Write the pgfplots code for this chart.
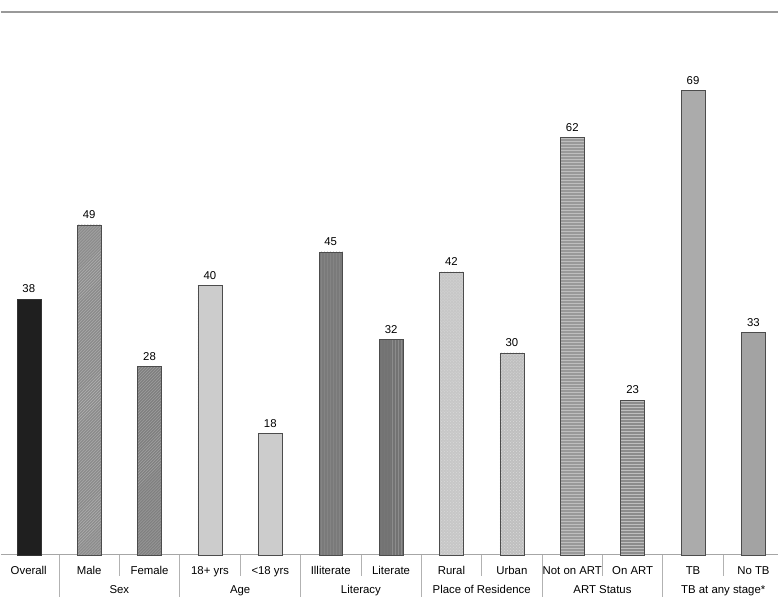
\documentclass[border=0pt]{standalone}
\usepackage{pgfplots}
\pgfplotsset{compat=1.18}
\usepackage{fontspec}
\setmainfont{Liberation Sans}
\usetikzlibrary{patterns}
\begin{document}
\fontsize{11.4}{13}\selectfont
\begin{tikzpicture}
\begin{axis}[
  width=779pt, height=544pt, scale only axis,
  xmin=-0.463, xmax=12.41, ymin=0, ymax=80.6,
  axis x line*=bottom, axis y line=none,
  x axis line style={draw=gray!70, line width=1pt, -},
  xtick=\empty, ytick=\empty,
  ybar, bar width=24pt, bar shift=0pt,
  nodes near coords,
  /pgf/number format/assume math mode=true,
  every node near coord/.append style={font=\fontsize{11.4}{13}\selectfont, yshift=2pt},
  clip=false,
]
\addplot[draw=black!80, fill=black!88] coordinates {(0,38)};
\addplot[draw=black!70, fill=black!45, postaction={pattern=north east lines, pattern color=black!30}] coordinates {(1,49)};
\addplot[draw=black!70, fill=black!50, postaction={pattern=north east lines, pattern color=black!35}] coordinates {(2,28)};
\addplot[draw=black!70, fill=black!20, postaction={pattern=crosshatch dots, pattern color=black!20}] coordinates {(3,40)};
\addplot[draw=black!70, fill=black!20, postaction={pattern=crosshatch dots, pattern color=black!20}] coordinates {(4,18)};
\addplot[draw=black!70, fill=black!52, postaction={pattern=vertical lines, pattern color=black!40}] coordinates {(5,45)};
\addplot[draw=black!70, fill=black!55, postaction={pattern=vertical lines, pattern color=black!45}] coordinates {(6,32)};
\addplot[draw=black!70, fill=black!22, postaction={pattern=crosshatch dots, pattern color=black!15}] coordinates {(7,42)};
\addplot[draw=black!70, fill=black!25, postaction={pattern=crosshatch dots, pattern color=black!15}] coordinates {(8,30)};
\addplot[draw=black!70, fill=black!40, postaction={pattern=horizontal lines, pattern color=black!25}] coordinates {(9,62)};
\addplot[draw=black!70, fill=black!45, postaction={pattern=horizontal lines, pattern color=black!25}] coordinates {(10,23)};
\addplot[draw=black!70, fill=black!33] coordinates {(11,69)};
\addplot[draw=black!70, fill=black!36] coordinates {(12,33)};
% top rule
\draw[gray!80, line width=1.6pt] (rel axis cs:0,1) -- (rel axis cs:1,1);
% separators
\pgfplotsinvokeforeach{0.5,2.5,4.5,6.5,8.5,10.5}{
  \draw[gray!60, line width=0.8pt] (axis cs:#1,0) -- ++(0pt,-42pt);
}
\pgfplotsinvokeforeach{1.5,3.5,5.5,7.5,9.5,11.5}{
  \draw[gray!60, line width=0.8pt] (axis cs:#1,0) -- ++(0pt,-21pt);
}
% category labels
\node[anchor=base, inner sep=0pt] at ([yshift=-20pt]axis cs:0,0) {Overall};
\node[anchor=base, inner sep=0pt] at ([yshift=-20pt]axis cs:1,0) {Male};
\node[anchor=base, inner sep=0pt] at ([yshift=-20pt]axis cs:2,0) {Female};
\node[anchor=base, inner sep=0pt] at ([yshift=-20pt]axis cs:3,0) {18+ yrs};
\node[anchor=base, inner sep=0pt] at ([yshift=-20pt]axis cs:4,0) {<18 yrs};
\node[anchor=base, inner sep=0pt] at ([yshift=-20pt]axis cs:5,0) {Illiterate};
\node[anchor=base, inner sep=0pt] at ([yshift=-20pt]axis cs:6,0) {Literate};
\node[anchor=base, inner sep=0pt] at ([yshift=-20pt]axis cs:7,0) {Rural};
\node[anchor=base, inner sep=0pt] at ([yshift=-20pt]axis cs:8,0) {Urban};
\node[anchor=base, inner sep=0pt] at ([yshift=-20pt]axis cs:9,0) {Not on ART};
\node[anchor=base, inner sep=0pt] at ([yshift=-20pt]axis cs:10,0) {On ART};
\node[anchor=base, inner sep=0pt] at ([yshift=-20pt]axis cs:11,0) {TB};
\node[anchor=base, inner sep=0pt] at ([yshift=-20pt]axis cs:12,0) {No TB};
% group labels
\node[anchor=base, inner sep=0pt] at ([yshift=-39pt]axis cs:1.5,0) {Sex};
\node[anchor=base, inner sep=0pt] at ([yshift=-39pt]axis cs:3.5,0) {Age};
\node[anchor=base, inner sep=0pt] at ([yshift=-39pt]axis cs:5.5,0) {Literacy};
\node[anchor=base, inner sep=0pt] at ([yshift=-39pt]axis cs:7.5,0) {Place of Residence};
\node[anchor=base, inner sep=0pt] at ([yshift=-39pt]axis cs:9.5,0) {ART Status};
\node[anchor=base, inner sep=0pt] at ([yshift=-39pt]axis cs:11.5,0) {TB at any stage*};
% bounding
\coordinate (tl) at ([yshift=12pt]rel axis cs:0,1);
\coordinate (br) at ([yshift=-45pt]rel axis cs:1,0);
\end{axis}
\path (tl) (br);
\end{tikzpicture}
\end{document}
